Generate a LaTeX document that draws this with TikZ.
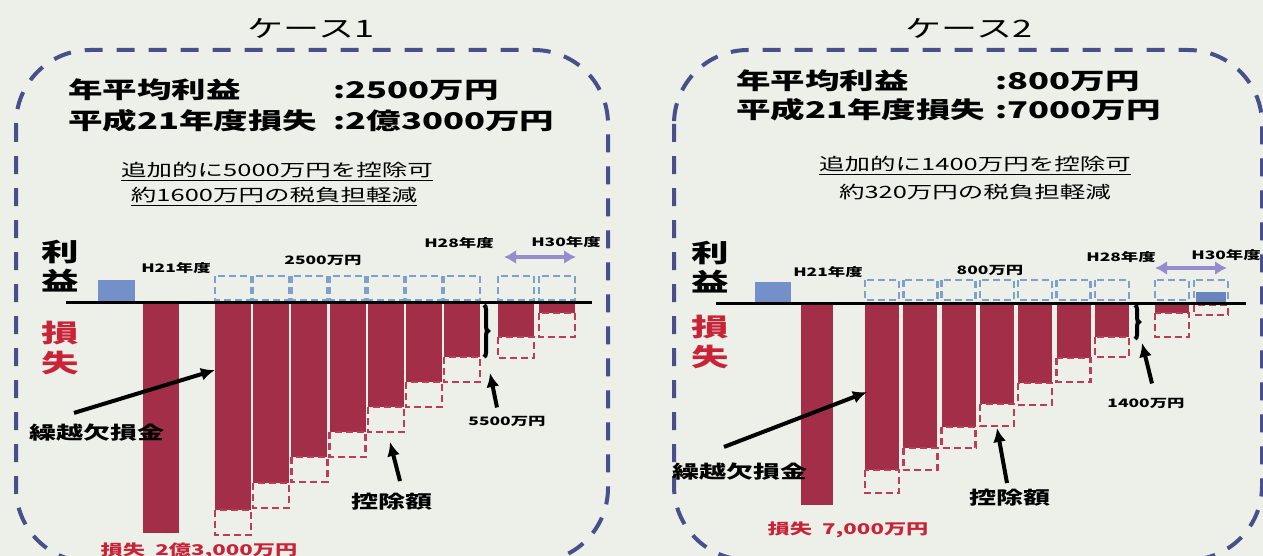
\documentclass[tikz,border=0pt]{standalone}
\usepackage{fontspec}
\setmainfont{Noto Sans CJK JP}[FakeStretch=1.5]
\usetikzlibrary{arrows.meta,decorations.pathreplacing}

\definecolor{bgcol}{RGB}{237,240,233}
\definecolor{framecol}{RGB}{72,80,140}
\definecolor{barred}{RGB}{163,46,72}
\definecolor{dedred}{RGB}{190,60,85}
\definecolor{profblue}{RGB}{125,160,205}
\definecolor{sqblue}{RGB}{115,145,200}
\definecolor{lavender}{RGB}{150,140,205}
\definecolor{lossred}{RGB}{200,35,55}

\tikzset{
	casetitle/.style={font=\fontsize{12}{14}\selectfont, inner sep=0pt},
	head/.style={font=\bfseries\fontsize{11.5}{13}\selectfont, anchor=west, inner sep=0pt},
	note/.style={font=\fontsize{8.5}{10}\selectfont, inner sep=0pt},
	sidelab/.style={font=\bfseries\fontsize{12.5}{14}\selectfont, inner sep=0pt},
	yearlab/.style={font=\bfseries\fontsize{5.8}{7}\selectfont, inner sep=0pt},
	lab/.style={font=\bfseries\fontsize{9}{11}\selectfont, inner sep=0pt},
	losslab/.style={font=\bfseries\fontsize{7.4}{9}\selectfont, text=lossred, inner sep=0pt},
	frame/.style={draw=framecol, line width=2pt, dash pattern=on 9pt off 7pt, rounded corners=37pt},
	lossbar/.style={fill=barred},
	ded/.style={draw=dedred, line width=1.2pt, dash pattern=on 3.5pt off 2pt},
	prof/.style={draw=profblue, line width=1.2pt, dash pattern=on 3.5pt off 2pt},
	arr/.style={-{Latex[length=7pt,width=6.5pt]}, line width=2pt},
	span/.style={{Latex[length=6pt,width=7pt]}-{Latex[length=6pt,width=7pt]}, line width=2pt, draw=lavender},
	bracket/.style={decorate, decoration={brace,amplitude=2pt}, line width=2pt},
}

\begin{document}
\begin{tikzpicture}[x=0.5pt,y=-0.5pt]
	\useasboundingbox[fill=bgcol] (0,0) rectangle (1263,556);

	% case 1
	\node[casetitle] (titleA) at (311,28) {ケース1};
	\draw[frame] (16,50) rectangle (608,562);
	\node[head] (avgA) at (68,90) {年平均利益};
	\node[head] (avgvalA) at (333,90) {:2500万円};
	\node[head] (lossA) at (68,121) {平成21年度損失};
	\node[head] (lossvalA) at (333,121) {:2億3000万円};
	\node[note] (addA) at (277,172) {\underline{追加的に5000万円を控除可}};
	\node[note] (taxA) at (274,197) {\underline{約1600万円の税負担軽減}};

	\node[sidelab] (riA) at (60,252) {利};
	\node[sidelab] (ekiA) at (60,281) {益};
	\node[sidelab, text=lossred] (sonA) at (60,333) {損};
	\node[sidelab, text=lossred] (shitsuA) at (60,363) {失};

	\fill[sqblue] (98,280) rectangle (135,301);
	\fill[lossbar] (143,304) rectangle (179,533);
	\foreach \x/\b/\d in {215/510/535, 253.2/483/508, 291.4/457/482, 329.6/432/457, 367.8/407/432, 406/382/407, 444.2/357/382, 498/337/358, 539/313/337}{
		\fill[lossbar] (\x,304) rectangle ({\x+36},\b);
		\draw[ded] (\x,\b) rectangle ({\x+36},\d);
		\draw[prof] (\x,276) rectangle ({\x+36},300);
	}
	\draw[line width=1.5pt] (66,302) -- (592,302);
	\draw[bracket] (484,305) -- (484,357);

	\node[yearlab] (h21A) at (176,268) {H21年度};
	\node[yearlab] (profA) at (323,260) {2500万円};
	\node[yearlab] (h28A) at (459,243) {H28年度};
	\node[yearlab] (h30A) at (566,242) {H30年度};
	\coordinate (spanA1) at (504,257);
	\coordinate (spanA2) at (576,257);
	\draw[span] (spanA1) -- (spanA2);

	\node[lab] (kurikoshiA) at (97,433) {繰越欠損金};
	\node[lab] (kojoA) at (392,502) {控除額};
	\node[yearlab] (extraA) at (507,421) {5500万円};
	\node[losslab] (totalA) at (199,551) {損失\ \ 2億3,000万円};
	\coordinate (kurikoshiTipA) at (215,370);
	\coordinate (kojoTipA) at (390,442);
	\coordinate (extraTipA) at (490,373);
	\draw[arr] ([xshift=-11.5pt,yshift=5.5pt]kurikoshiA.north) -- (kurikoshiTipA);
	\draw[arr] ([xshift=4pt,yshift=6pt]kojoA.north) -- (kojoTipA);
	\draw[arr] ([xshift=-5pt,yshift=4pt]extraA.north) -- (extraTipA);

	% case 2
	\node[casetitle] (titleB) at (969,28) {ケース2};
	\draw[frame] (674,50) rectangle (1262,560);
	\node[head] (avgB) at (736,81) {年平均利益};
	\node[head] (avgvalB) at (995,81) {:800万円};
	\node[head] (lossB) at (736,110) {平成21年度損失};
	\node[head] (lossvalB) at (995,110) {:7000万円};
	\node[note] (addB) at (975,166) {\underline{追加的に1400万円を控除可}};
	\node[note] (taxB) at (975,192) {約320万円の税負担軽減};

	\node[sidelab] (riB) at (710,253) {利};
	\node[sidelab] (ekiB) at (710,282) {益};
	\node[sidelab, text=lossred] (sonB) at (710,327) {損};
	\node[sidelab, text=lossred] (shitsuB) at (710,357) {失};

	\fill[sqblue] (755,282) rectangle (791,303);
	\fill[lossbar] (801,305) rectangle (833,505);
	\foreach \x/\b/\d in {865/470/493, 903.3/448/470, 941.6/427/448, 979.9/404/426, 1018.2/383/405, 1056.5/358/382, 1094.8/337/357, 1155/313/337}{
		\fill[lossbar] (\x,305) rectangle ({\x+34},\b);
		\draw[ded] (\x,\b) rectangle ({\x+34},\d);
		\draw[prof] (\x,280) rectangle ({\x+34},300);
	}
	\draw[prof] (1194,280) rectangle (1228,300);
	\fill[sqblue!80!framecol] (1196,292) rectangle (1226,302);
	\draw[ded] (1194,305) rectangle (1228,315);
	\draw[line width=1.5pt] (716,303) -- (1246,303);
	\draw[bracket] (1135,305) -- (1135,339);

	\node[yearlab] (h21B) at (828,272) {H21年度};
	\node[yearlab] (profB) at (990,270) {800万円};
	\node[yearlab] (h28B) at (1121,257) {H28年度};
	\node[yearlab] (h30B) at (1226,255) {H30年度};
	\coordinate (spanB1) at (1155,268);
	\coordinate (spanB2) at (1227,268);
	\draw[span] (spanB1) -- (spanB2);

	\node[lab] (kurikoshiB) at (740,472) {繰越欠損金};
	\node[lab] (kojoB) at (1010,498) {控除額};
	\node[yearlab] (extraB) at (1146,403) {1400万円};
	\node[losslab] (totalB) at (848,530) {損失\ \ 7,000万円};
	\coordinate (kurikoshiTipB) at (867,392);
	\coordinate (kojoTipB) at (997,428);
	\coordinate (extraTipB) at (1142,343);
	\draw[arr] ([xshift=-8pt,yshift=8pt]kurikoshiB.north) -- (kurikoshiTipB);
	\draw[arr] ([xshift=-1.5pt,yshift=3pt]kojoB.north) -- (kojoTipB);
	\draw[arr] ([xshift=3pt,yshift=7pt]extraB.north) -- (extraTipB);
\end{tikzpicture}
\end{document}
